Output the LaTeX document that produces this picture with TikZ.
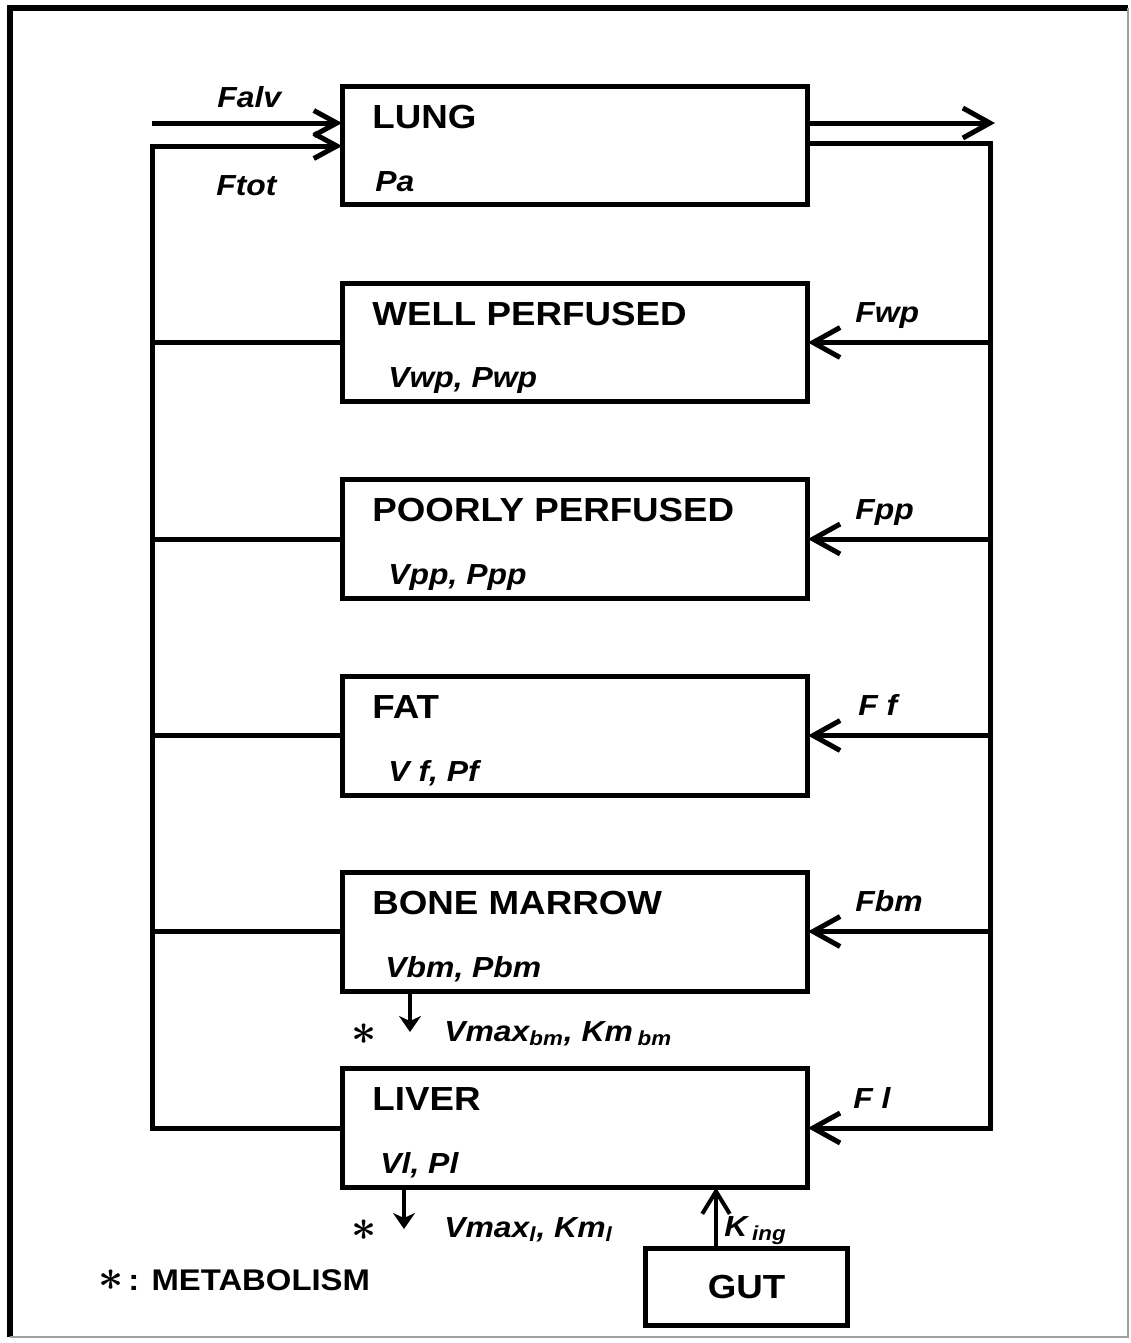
\documentclass[tikz,border=0pt]{standalone}
\usepackage{fontspec}
\setmainfont{Liberation Sans}[FakeStretch=1.1]
\usetikzlibrary{arrows.meta,calc,positioning}
\definecolor{pbpknoir}{HTML}{000000}
\definecolor{pbpkgris}{HTML}{A0A0A0}

\begin{document}
\begin{tikzpicture}[x=0.02cm, y=-0.02cm,
  organe/.style={draw=pbpknoir, line width=0.1cm, minimum width=9.32cm,
                 minimum height=2.38cm, inner sep=0pt, outer sep=0pt},
  titre/.style={anchor=base west, inner sep=0pt, text=pbpknoir,
                font=\fontsize{19}{23}\selectfont\bfseries},
  param/.style={anchor=base west, inner sep=0pt, text=pbpknoir,
                font=\fontsize{16.5}{20}\selectfont\bfseries\itshape},
  ligne/.style={draw=pbpknoir, line width=0.1cm},
  flux/.style={ligne, -{Straight Barb[length=0.54cm, width=0.6cm]}},
  entree/.style={draw=pbpknoir, line width=0.08cm, -{Straight Barb[length=0.45cm, width=0.55cm]}},
  metab/.style={draw=pbpknoir, line width=0.07cm, -{Stealth[length=0.32cm, width=0.44cm, inset=0.1cm]}},
  etoile/.style={inner sep=0pt, text=pbpknoir, font=\fontsize{26}{26}\selectfont\boldmath}]
\useasboundingbox (0,0) rectangle (1130,1343);
\draw[pbpknoir, line width=0.11cm] (10,1337) -- (10,8) -- (1128,8);
\draw[pbpkgris, line width=0.04cm] (10,1337) -- (1128,1337) -- (1128,8);

\node[organe] (lung) at (575,145.5) {};
\node[organe] (wp) at (575,342.5) {};
\node[organe] (pp) at (575,539) {};
\node[organe] (fat) at (575,735.5) {};
\node[organe] (bm) at (575,931.5) {};
\node[organe] (liver) at (575,1128) {};
\node[organe, minimum width=4.06cm, minimum height=1.54cm,
      font=\fontsize{19}{23}\selectfont\bfseries] (gut) at (746.5,1286.5) {GUT};

\node[titre] (lungt) at ($(lung.north west)+(30,42)$) {LUNG};
\node[param] (lungp) at ($(lung.south west)+(33,-13)$) {Pa};
\node[titre] (wpt) at ($(wp.north west)+(30,42)$) {WELL PERFUSED};
\node[param] (wpp) at ($(wp.south west)+(46,-14)$) {Vwp, Pwp};
\node[titre] (ppt) at ($(pp.north west)+(30,42)$) {POORLY PERFUSED};
\node[param] (ppp) at ($(pp.south west)+(46,-14)$) {Vpp, Ppp};
\node[titre] (fatt) at ($(fat.north west)+(30,42)$) {FAT};
\node[param] (fatp) at ($(fat.south west)+(46,-14)$) {V f, Pf};
\node[titre] (bmt) at ($(bm.north west)+(30,42)$) {BONE MARROW};
\node[param] (bmp) at ($(bm.south west)+(43,-14)$) {Vbm, Pbm};
\node[titre] (livert) at ($(liver.north west)+(30,42)$) {LIVER};
\node[param] (liverp) at ($(liver.south west)+(38,-14)$) {Vl, Pl};

\coordinate (alv) at (152,123);
\coordinate (exh) at (995,123);
\coordinate (lt) at (152,146);
\coordinate (lb) at (lt |- liver.west);
\coordinate (rt) at (990,143);

\draw[flux, -{Straight Barb[length=0.46cm, width=0.5cm]}] (alv) -- (alv -| lung.west);
\draw[flux, -{Straight Barb[length=0.46cm, width=0.5cm]}] (liver.west) -- (lb) -- (lt) -- (lt -| lung.west);
\draw[flux] (lung.east |- exh) -- (exh);
\draw[flux] (rt -| lung.east) -- (rt) |- (liver.east);
\draw[flux] (rt |- wp.east) -- (wp.east);
\draw[flux] (rt |- pp.east) -- (pp.east);
\draw[flux] (rt |- fat.east) -- (fat.east);
\draw[flux] (rt |- bm.east) -- (bm.east);
\draw[ligne] (wp.west) -- (wp.west -| lt);
\draw[ligne] (pp.west) -- (pp.west -| lt);
\draw[ligne] (fat.west) -- (fat.west -| lt);
\draw[ligne] (bm.west) -- (bm.west -| lt);

\node[param] (falv) at (217,107) {Falv};
\node[param] (ftot) at (216,195) {Ftot};
\node[param] (fwp) at ($(wp.east)+(47,-20)$) {Fwp};
\node[param] (fpp) at ($(pp.east)+(47,-20)$) {Fpp};
\node[param] (ff) at ($(fat.east)+(50,-20)$) {F f};
\node[param] (fbm) at ($(bm.east)+(47,-20)$) {Fbm};
\node[param] (fl) at ($(liver.east)+(45,-20)$) {F l};

\coordinate (bmm) at (410,1032);
\draw[metab] (bmm |- bm.south) -- (bmm);
\node[etoile] (bmstar) at (364,1034) {$\ast$};
\node[param] (bmvm) at (444,1041) {Vmax\textsubscript{bm}, Km\,\textsubscript{bm}};
\coordinate (lim) at (404,1229);
\draw[metab] (lim |- liver.south) -- (lim);
\node[etoile] (listar) at (364,1230) {$\ast$};
\node[param] (livm) at (444,1237) {Vmax\textsubscript{l}, Km\textsubscript{l}};

\coordinate (ing) at (716,1220);
\draw[entree] (ing |- gut.north) -- (ing |- liver.south);
\node[param] (king) at (724,1236) {K\,\textsubscript{ing}};

\node[titre, font=\fontsize{17}{20}\selectfont\bfseries] (legende) at (98,1290)
  {{\fontsize{26}{26}\selectfont\boldmath$\ast$}\,: METABOLISM};
\end{tikzpicture}
\end{document}
